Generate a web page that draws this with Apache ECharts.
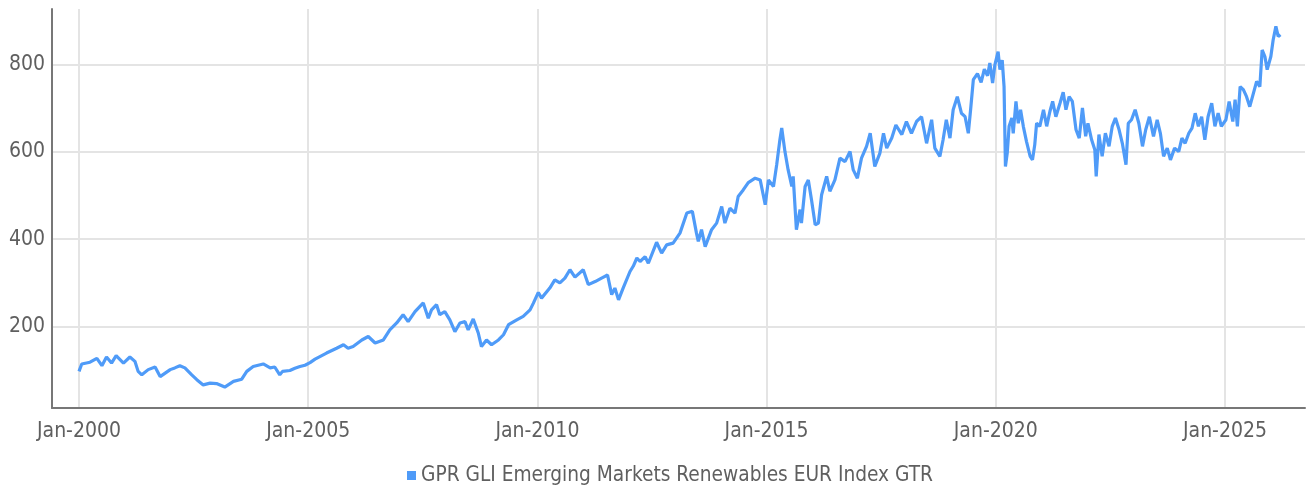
<!DOCTYPE html>
<html>
<head>
<meta charset="utf-8">
<script src="https://cdn.jsdelivr.net/npm/echarts@6/dist/echarts.min.js"></script>
<style>
  html, body { margin: 0; padding: 0; background: #fff; }
  #chart { width: 1306px; height: 493px; }
</style>
</head>
<body>
<div id="chart"></div>
<script>
// series name
const seriesName = 'GPR GLI Emerging Markets Renewables EUR Index GTR';

// decimal years
const dates = [
  2000.00, 2000.06, 2000.24, 2000.39, 2000.50, 2000.60, 2000.71, 2000.81, 2000.97,
  2001.11, 2001.22, 2001.29, 2001.37, 2001.51, 2001.66, 2001.77, 2001.88, 2001.99,
  2002.09, 2002.20, 2002.31, 2002.46, 2002.57, 2002.71, 2002.86, 2003.00, 2003.18, 2003.37,
  2003.55, 2003.66, 2003.80, 2004.02, 2004.17, 2004.27, 2004.38, 2004.44, 2004.60, 2004.71,
  2004.82, 2004.93, 2005.04, 2005.15, 2005.40, 2005.62, 2005.77, 2005.87, 2005.98, 2006.17,
  2006.31, 2006.46, 2006.64, 2006.78, 2006.93, 2007.07, 2007.18, 2007.33, 2007.51, 2007.62,
  2007.69, 2007.80, 2007.87, 2007.98, 2008.09, 2008.20, 2008.31, 2008.42, 2008.49,
  2008.60, 2008.71, 2008.78, 2008.89, 2009.00, 2009.15, 2009.26, 2009.37, 2009.55,
  2009.69, 2009.84, 2009.91, 2010.02, 2010.09, 2010.27, 2010.38, 2010.49, 2010.60,
  2010.71, 2010.82, 2011.00, 2011.11, 2011.26, 2011.40, 2011.53, 2011.62, 2011.69,
  2011.77, 2011.87, 2012.02, 2012.09, 2012.17, 2012.24, 2012.35, 2012.42, 2012.60, 2012.71,
  2012.82, 2012.96, 2013.11, 2013.26, 2013.38, 2013.47, 2013.51, 2013.58, 2013.66, 2013.80,
  2013.91, 2014.02, 2014.09, 2014.20, 2014.31, 2014.38, 2014.49, 2014.60, 2014.75,
  2014.86, 2014.97, 2015.04, 2015.15, 2015.22, 2015.29, 2015.33, 2015.40, 2015.47,
  2015.55, 2015.58, 2015.65, 2015.73, 2015.76, 2015.84, 2015.91, 2015.98, 2016.06,
  2016.13, 2016.20, 2016.31, 2016.38, 2016.49, 2016.60, 2016.71, 2016.82, 2016.89,
  2016.98, 2017.07, 2017.18, 2017.26, 2017.36, 2017.47, 2017.55, 2017.62, 2017.73,
  2017.82, 2017.95, 2018.05, 2018.16, 2018.27, 2018.38, 2018.49, 2018.60, 2018.67,
  2018.78, 2018.85, 2018.92, 2019.00, 2019.07, 2019.16, 2019.25, 2019.33, 2019.40,
  2019.45, 2019.51, 2019.60, 2019.68, 2019.75, 2019.82, 2019.87, 2019.93, 2019.98,
  2020.05, 2020.09, 2020.14, 2020.18, 2020.21, 2020.25, 2020.29, 2020.35, 2020.38,
  2020.44, 2020.49, 2020.54, 2020.60, 2020.67, 2020.75, 2020.80, 2020.85, 2020.89,
  2020.96, 2021.04, 2021.11, 2021.18, 2021.24, 2021.31, 2021.40, 2021.47, 2021.53,
  2021.60, 2021.67, 2021.75, 2021.82, 2021.89, 2021.96, 2022.01, 2022.09, 2022.16,
  2022.19, 2022.25, 2022.32, 2022.39, 2022.47, 2022.54, 2022.61, 2022.69, 2022.76,
  2022.84, 2022.89, 2022.96, 2023.04, 2023.12, 2023.20, 2023.27, 2023.35, 2023.44,
  2023.52, 2023.59, 2023.66, 2023.74, 2023.81, 2023.90, 2023.99, 2024.06, 2024.13,
  2024.21, 2024.28, 2024.35, 2024.42, 2024.49, 2024.56, 2024.63, 2024.71, 2024.78,
  2024.85, 2024.92, 2025.02, 2025.09, 2025.17, 2025.22, 2025.27, 2025.33, 2025.40,
  2025.47, 2025.54, 2025.61, 2025.69, 2025.76, 2025.81, 2025.87, 2025.92, 2026.00,
  2026.05, 2026.11, 2026.16, 2026.21
];

// index values
const values = [
  97, 114, 118, 127, 110, 130, 116, 133, 116,
  130, 120, 97, 89, 101, 107, 85, 93, 101,
  105, 110, 105, 89, 78, 66, 70, 69, 61, 74,
  79, 97, 108, 114, 105, 107, 89, 97, 99, 104,
  108, 111, 117, 125, 139, 150, 158, 150, 154, 169,
  177, 162, 169, 192, 208, 227, 211, 234, 254, 219,
  238, 250, 227, 234, 215, 188, 208, 211, 192,
  217, 185, 154, 169, 158, 169, 181, 204, 215,
  223, 238, 253, 278, 265, 288, 307, 300, 311,
  330, 313, 330, 296, 303, 311, 318, 273, 288,
  261, 288, 326, 338, 357, 349, 360, 345, 393, 368,
  387, 391, 414, 460, 464, 414, 395, 422, 383, 422,
  437, 475, 437, 471, 460, 498, 513, 530, 540,
  536, 479, 536, 521, 571, 628, 655, 601, 559,
  521, 544, 422, 468, 437, 521, 536, 490, 433,
  437, 502, 544, 510, 536, 586, 578, 601, 559,
  540, 586, 613, 643, 567, 597, 643, 609, 632,
  662, 640, 670, 643, 670, 681, 620, 674, 609,
  590, 628, 674, 632, 697, 727, 689, 681, 643,
  697, 766, 780, 760, 790, 775, 804, 758, 800,
  830, 789, 811, 750, 567, 598, 659, 678, 643,
  716, 666, 697, 659, 624, 590, 582, 617, 666,
  659, 697, 659, 693, 716, 681, 712, 737, 697,
  727, 716, 651, 632, 701, 636, 666, 628, 605,
  544, 640, 590, 643, 613, 659, 678, 651, 620,
  571, 666, 674, 697, 666, 613, 651, 681, 636,
  674, 643, 590, 609, 582, 609, 601, 632, 620,
  643, 655, 689, 659, 681, 628, 681, 712, 659,
  689, 659, 674, 716, 670, 720, 659, 750, 743,
  727, 704, 731, 762, 750, 834, 819, 789, 819,
  857, 888, 865, 869
];

// axis ticks
const xTicks = [2000, 2005, 2010, 2015, 2020, 2025];
const yTicks = [200, 400, 600, 800];

const FONT = "'Liberation Sans Narrow', 'DejaVu Sans Condensed', Roboto, sans-serif";
const LINE_COLOR = '#4f9bf8';

const chart = echarts.init(document.getElementById('chart'));

const option = {
    animation: false,
    backgroundColor: '#ffffff',
    grid: {
        left: 52,
        right: 1,
        top: 9,
        bottom: 85
    },
    legend: {
        bottom: 2,
        left: 402,
        icon: 'rect',
        itemWidth: 9,
        itemHeight: 9,
        itemGap: 6,
        textStyle: {
            fontFamily: FONT,
            fontSize: 20.7,
            color: '#5f5f5f'
        },
        data: [seriesName]
    },
    xAxis: {
        type: 'value',
        min: 1999.411,
        max: 2026.745,
        axisLine: {
            show: true,
            onZero: false,
            lineStyle: { color: '#777', width: 2 }
        },
        axisTick: { show: false, customValues: xTicks },
        axisLabel: {
            customValues: xTicks,
            margin: 13,
            fontFamily: FONT,
            fontSize: 21,
            color: '#5f5f5f',
            formatter: v => 'Jan-' + Math.round(v)
        },
        splitLine: {
            show: true,
            lineStyle: { color: '#e4e4e4', width: 2 }
        }
    },
    yAxis: {
        type: 'value',
        min: 13,
        max: 928,
        axisLine: {
            show: true,
            lineStyle: { color: '#777', width: 2 }
        },
        axisTick: { show: false, customValues: yTicks },
        axisLabel: {
            customValues: yTicks,
            margin: 7,
            fontFamily: FONT,
            fontSize: 21,
            color: '#5f5f5f'
        },
        splitLine: {
            show: true,
            lineStyle: { color: '#e4e4e4', width: 2 }
        }
    },
    series: [{
        name: seriesName,
        type: 'line',
        showSymbol: false,
        symbol: 'none',
        data: dates.map((d, i) => [d, values[i]]),
        itemStyle: { color: LINE_COLOR },
        lineStyle: { color: LINE_COLOR, width: 3.2 }
    }]
};

chart.setOption(option);
</script>
</body>
</html>
